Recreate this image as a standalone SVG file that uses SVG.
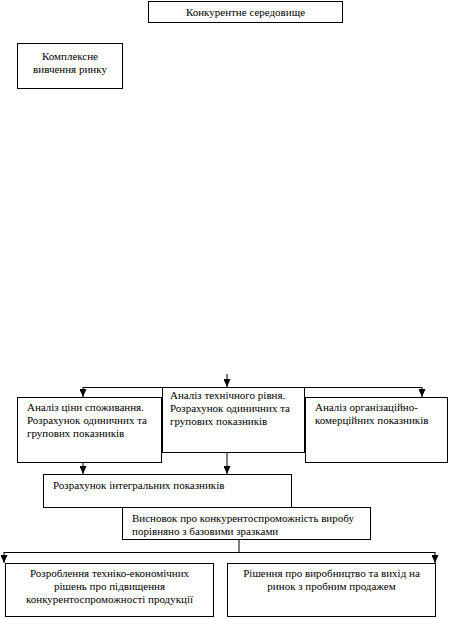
<svg xmlns="http://www.w3.org/2000/svg" width="449" height="619" viewBox="0 0 449 619">
<style>
.box{fill:#fff;stroke:#000;stroke-width:1}
.c{text-anchor:middle}
.ln{stroke:#000;stroke-width:1;fill:none}
.ar{stroke:#000;stroke-width:1;fill:none;marker-end:url(#ah)}
text{font-family:"Liberation Serif",serif;font-size:11px}
</style>
<defs>
<marker id="ah" markerWidth="8" markerHeight="7" refX="8" refY="3.5" orient="auto" markerUnits="userSpaceOnUse">
<path d="M0,0 L8,3.5 L0,7 Z" fill="#000"/>
</marker>
</defs>
<rect width="449" height="619" fill="#fff"/>
<g id="connectors">
<line class="ar" x1="227" y1="374" x2="227" y2="387"/>
<line class="ln" x1="83" y1="387.5" x2="422" y2="387.5"/>
<line class="ar" x1="83" y1="387" x2="83" y2="397"/>
<line class="ar" x1="422" y1="387" x2="422" y2="397"/>
<line class="ar" x1="83" y1="463" x2="83" y2="474"/>
<line class="ar" x1="227" y1="452" x2="227" y2="474"/>
<line class="ln" x1="239" y1="540" x2="239" y2="552"/>
<line class="ln" x1="4" y1="552.5" x2="435" y2="552.5"/>
<line class="ar" x1="4" y1="552" x2="4" y2="563"/>
<line class="ar" x1="435" y1="552" x2="435" y2="563"/>
</g>
<g fill="#000">
<g id="n-konk">
<rect class="box" x="148.5" y="1.5" width="194" height="21"/>
<text class="c" x="245.5" y="16">Конкурентне середовище</text>
</g>
<g id="n-kompl">
<rect class="box" x="17.5" y="43.5" width="105" height="45"/>
<text class="c" x="70" y="60">Комплексне</text>
<text class="c" x="70" y="73">вивчення ринку</text>
</g>
<g id="n-tsina">
<rect class="box" x="17.5" y="397.5" width="144" height="65"/>
<text x="27" y="411">Аналіз ціни споживання.</text>
<text x="27" y="424">Розрахунок одиничних та</text>
<text x="27" y="437">групових показників</text>
</g>
<g id="n-tekhn">
<rect class="box" x="162.5" y="387.5" width="142" height="65"/>
<text x="170" y="399">Аналіз технічного рівня.</text>
<text x="170" y="412">Розрахунок одиничних та</text>
<text x="170" y="425">групових показників</text>
</g>
<g id="n-org">
<rect class="box" x="305.5" y="397.5" width="142" height="65"/>
<text x="315" y="411">Аналіз організаційно-</text>
<text x="315" y="424">комерційних показників</text>
</g>
<g id="n-integr">
<rect class="box" x="43.5" y="474.5" width="248" height="33"/>
<text x="53" y="489">Розрахунок інтегральних показників</text>
</g>
<g id="n-vysn">
<rect class="box" x="122.5" y="507.5" width="248" height="32"/>
<text x="132" y="522">Висновок про конкурентоспроможність виробу</text>
<text x="132" y="535">порівняно з базовими зразками</text>
</g>
<g id="n-rozr">
<rect class="box" x="5.5" y="563.5" width="208" height="53"/>
<text class="c" x="109.5" y="577">Розроблення техніко-економічних</text>
<text class="c" x="109.5" y="590">рішень про підвищення</text>
<text class="c" x="109.5" y="603">конкурентоспроможності продукції</text>
</g>
<g id="n-rish">
<rect class="box" x="227.5" y="563.5" width="208" height="53"/>
<text class="c" x="331.5" y="577">Рішення про виробництво та вихід на</text>
<text class="c" x="331.5" y="590">ринок з пробним продажем</text>
</g>
</g>
</svg>
